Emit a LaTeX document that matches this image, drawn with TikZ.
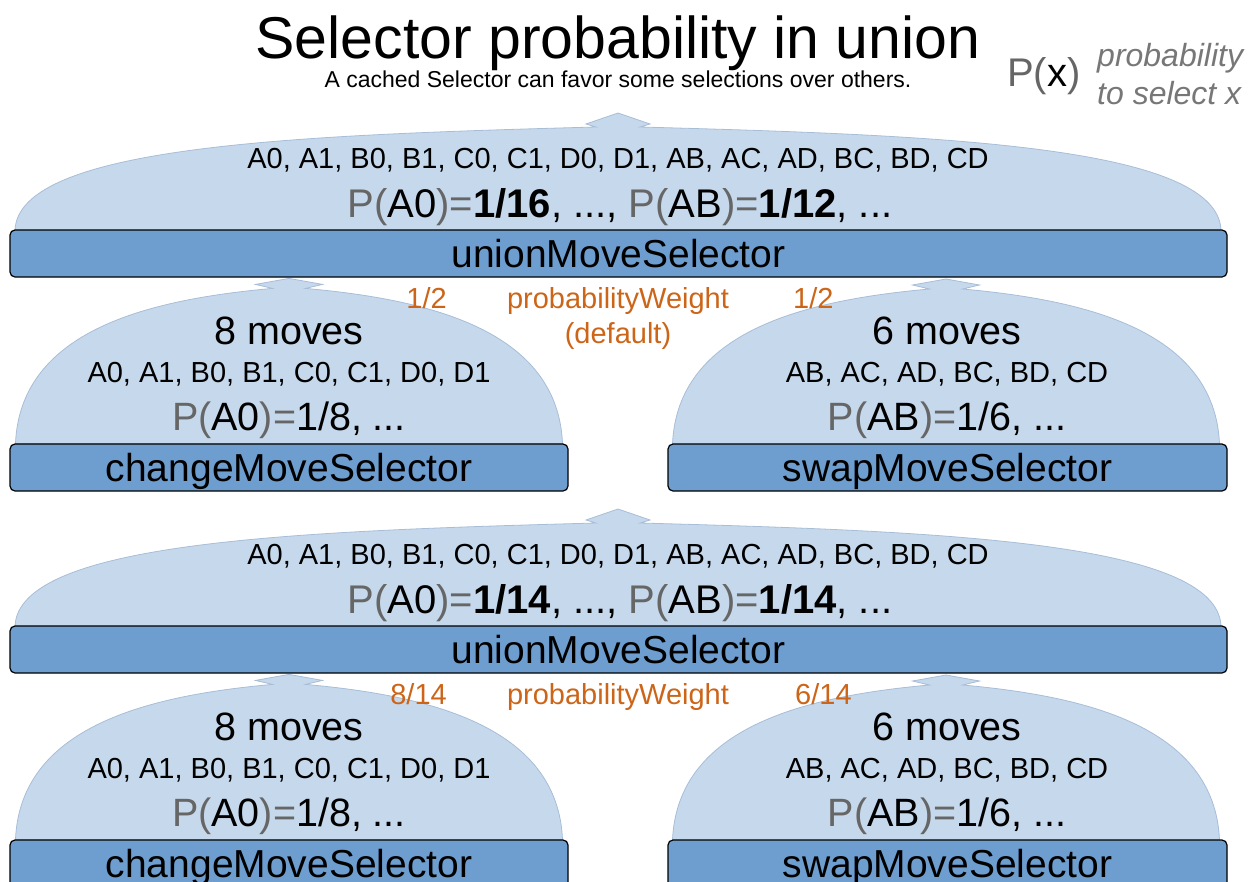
\documentclass[tikz,border=0pt]{standalone}
\usepackage{fontspec}
\setmainfont{Liberation Sans}
\usetikzlibrary{backgrounds}
\definecolor{fanfill}{HTML}{C6D9EC}
\definecolor{fanedge}{HTML}{A7BDD8}
\definecolor{barfill}{HTML}{6D9ECF}
\definecolor{pgray}{HTML}{666666}
\definecolor{legray}{HTML}{777777}
\definecolor{worange}{HTML}{CC6518}
\newcommand\fsz[1]{\fontsize{#1}{#1}\selectfont}
\newcommand\PX[1]{\textcolor{pgray}{P(}#1\textcolor{pgray}{)=}}
\begin{document}
\begin{tikzpicture}[x=1pt,y=-1pt,
  fanstyle/.style={fill=fanfill,draw=fanedge,line width=0.8pt},
  bar/.style={rectangle,rounded corners=5pt,draw=black,line width=1.2pt,fill=barfill,
    minimum height=47pt,inner sep=0pt,text height=28.5pt,text depth=0pt,font=\fsz{39}},
  txt/.style={inner sep=0pt,anchor=base},
  list/.style={txt,font=\fsz{29}},
  big/.style={txt,font=\fsz{39.5}},
  wt/.style={txt,font=\fsz{29},text=worange},
  bigfan/.pic={\path[fanstyle] (-603,0) .. controls (-599,-85) and (-318,-95) .. (-22,-103)
     -- (-32,-106) -- (0,-117) -- (32,-106) -- (22,-103)
     .. controls (318,-95) and (599,-85) .. (603,0) -- cycle;},
  smallfan/.pic={\path[fanstyle] (-273.5,0) .. controls (-268.5,-114) and (-138.5,-144) .. (-16.5,-155)
     -- (-33.5,-159) -- (0,-165) -- (33.5,-159) -- (16.5,-155)
     .. controls (138.5,-144) and (268.5,-114) .. (273.5,0) -- cycle;}
]
\useasboundingbox (0,0) rectangle (1252,881);
\clip (0,0) rectangle (1252,881);

% title and legend
\node[txt,font=\fsz{59}] (title) at (618,58) {Selector probability in union};
\node[txt,font=\fsz{23}] (subtitle) at (618,87) {A cached Selector can favor some selections over others.};
\node[txt,anchor=base west,font=\fsz{40}] (legP) at (1007,86) {\textcolor{pgray}{P(}x\textcolor{pgray}{)}};
\node[txt,anchor=base west,font=\fsz{32}\itshape,text=legray] (legA) at (1097,66) {probability};
\node[txt,anchor=base west,font=\fsz{32}\itshape,text=legray] (legB) at (1097,104) {to select x};

% ---------- upper half ----------
\node[bar,minimum width=1217pt] (u1) at (618.5,253.5) {unionMoveSelector};
\node[bar,minimum width=558pt] (c1) at (289,467.5) {changeMoveSelector};
\node[bar,minimum width=559pt] (s1) at (947.5,467.5) {swapMoveSelector};

\begin{scope}[on background layer]
  \pic at (618,230) {bigfan};
  \pic at (c1.north) {smallfan};
  \pic at (946,444) {smallfan};
\end{scope}

\node[list] (l1) at (618,168) {A0, A1, B0, B1, C0, C1, D0, D1, AB, AC, AD, BC, BD, CD};
\node[big,font=\fsz{40}] (p1) at (620,217) {\PX{A0}\textbf{1/16}, ..., \PX{AB}\textbf{1/12}, ...};

\node[wt,anchor=base east] (w1l) at (447,308) {1/2};
\node[wt] (pw1) at (618,308) {probabilityWeight};
\node[wt] (d1) at (618,343) {(default)};
\node[wt,anchor=base west] (w1r) at (793,308) {1/2};

\node[big] (cm1) at (289,344) {8 moves};
\node[list] (cl1) at (289,382) {A0, A1, B0, B1, C0, C1, D0, D1};
\node[big] (cp1) at (289,430) {\PX{A0}1/8, ...};
\node[big] (sm1) at (947,344) {6 moves};
\node[list] (sl1) at (947,382) {AB, AC, AD, BC, BD, CD};
\node[big] (sp1) at (947,430) {\PX{AB}1/6, ...};

% ---------- lower half ----------
\node[bar,minimum width=1217pt] (u2) at (618.5,649.5) {unionMoveSelector};
\node[bar,minimum width=558pt] (c2) at (289,863.5) {changeMoveSelector};
\node[bar,minimum width=559pt] (s2) at (947.5,863.5) {swapMoveSelector};

\begin{scope}[on background layer]
  \pic at (618,626) {bigfan};
  \pic at (c2.north) {smallfan};
  \pic at (946,840) {smallfan};
\end{scope}

\node[list] (l2) at (618,564) {A0, A1, B0, B1, C0, C1, D0, D1, AB, AC, AD, BC, BD, CD};
\node[big,font=\fsz{40}] (p2) at (620,613) {\PX{A0}\textbf{1/14}, ..., \PX{AB}\textbf{1/14}, ...};

\node[wt,anchor=base east] (w2l) at (447,704) {8/14};
\node[wt] (pw2) at (618,704) {probabilityWeight};
\node[wt,anchor=base west] (w2r) at (795,704) {6/14};

\node[big] (cm2) at (289,740) {8 moves};
\node[list] (cl2) at (289,778) {A0, A1, B0, B1, C0, C1, D0, D1};
\node[big] (cp2) at (289,826) {\PX{A0}1/8, ...};
\node[big] (sm2) at (947,740) {6 moves};
\node[list] (sl2) at (947,778) {AB, AC, AD, BC, BD, CD};
\node[big] (sp2) at (947,826) {\PX{AB}1/6, ...};
\end{tikzpicture}
\end{document}
